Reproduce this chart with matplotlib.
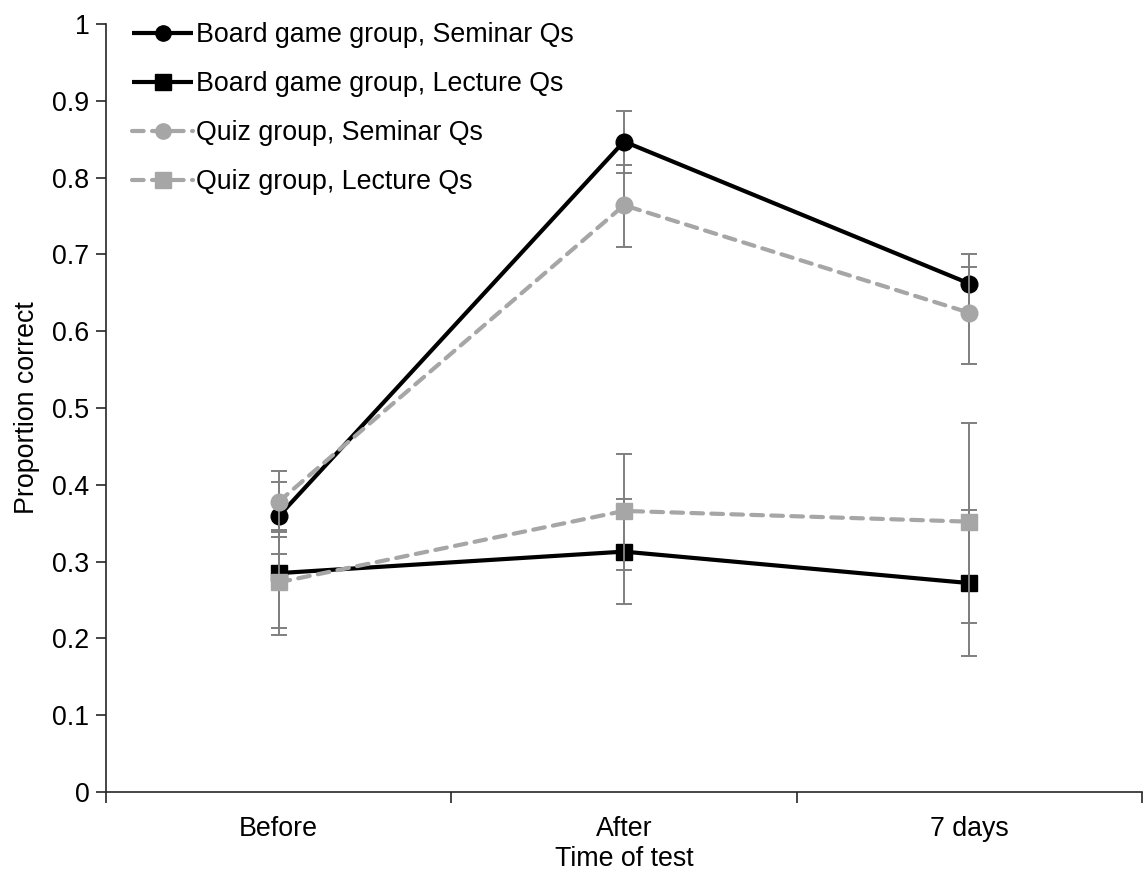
import matplotlib
matplotlib.use("Agg")
import matplotlib.pyplot as plt
from matplotlib.ticker import FixedLocator

categories = ["Before", "After", "7 days"]

bg_sem = [0.359, 0.847, 0.662]
bg_sem_lo = [0.049, 0.041, 0.038]
bg_sem_hi = [0.045, 0.040, 0.038]

bg_lec = [0.285, 0.313, 0.272]
bg_lec_lo = [0.081, 0.068, 0.095]
bg_lec_hi = [0.056, 0.068, 0.095]

qz_sem = [0.378, 0.764, 0.624]
qz_sem_lo = [0.040, 0.054, 0.067]
qz_sem_hi = [0.040, 0.052, 0.060]

qz_lec = [0.273, 0.366, 0.352]
qz_lec_lo = [0.059, 0.077, 0.132]
qz_lec_hi = [0.059, 0.074, 0.129]

labels = ["Board game group, Seminar Qs", "Board game group, Lecture Qs",
          "Quiz group, Seminar Qs", "Quiz group, Lecture Qs"]
y_ticks = [0, 0.1, 0.2, 0.3, 0.4, 0.5, 0.6, 0.7, 0.8, 0.9, 1]
y_ticklabels = ["0", "0.1", "0.2", "0.3", "0.4", "0.5", "0.6", "0.7", "0.8", "0.9", "1"]

plt.rcParams['font.family'] = ['Liberation Sans', 'DejaVu Sans']
FS = 19.3

fig = plt.figure(figsize=(11.44, 8.75), dpi=100)
ax = fig.add_axes([106/1144, (875-792)/875, 1036/1144, 768/875])

x = list(range(len(categories)))
black = "#000000"
gray = "#a6a6a6"
ecol = "#7f7f7f"

series = [
    (bg_sem, bg_sem_lo, bg_sem_hi, black, "o", "-"),
    (bg_lec, bg_lec_lo, bg_lec_hi, black, "s", "-"),
    (qz_sem, qz_sem_lo, qz_sem_hi, gray, "o", "--"),
    (qz_lec, qz_lec_lo, qz_lec_hi, gray, "s", "--"),
]

handles = []
for i, (vals, lo, hi, col, mk, ls) in enumerate(series):
    ax.errorbar(x, vals, yerr=[lo, hi], fmt="none", ecolor=ecol,
                elinewidth=1.4, capsize=5.5, capthick=1.4, zorder=2 + 2*i)
    ln, = ax.plot(x, vals, color=col, linestyle=ls, linewidth=3.0,
                  marker=mk, markersize=12, markerfacecolor=col,
                  markeredgecolor=col, label=labels[i], zorder=3 + 2*i,
                  dash_capstyle="round", solid_capstyle="butt")
    if ls == "--":
        ln.set_dashes((2.8, 2.0))
    handles.append(ln)

ax.set_xlim(-0.5, 2.5)
ax.set_ylim(0, 1)
ax.spines["top"].set_visible(False)
ax.spines["right"].set_visible(False)
for s in ["left", "bottom"]:
    ax.spines[s].set_linewidth(1.2)
    ax.spines[s].set_color("#262626")

ax.set_yticks(y_ticks)
ax.set_yticklabels(y_ticklabels, fontsize=FS)
ax.tick_params(axis="y", direction="out", length=7, width=1.2, color="#262626", pad=5)

ax.set_xticks(x)
ax.set_xticklabels(categories, fontsize=FS)
ax.tick_params(axis="x", which="major", length=0, pad=17)
ax.xaxis.set_minor_locator(FixedLocator([-0.5, 0.5, 1.5, 2.5]))
ax.tick_params(axis="x", which="minor", direction="out", length=8, width=1.2, color="#262626")

ax.set_xlabel("Time of test", fontsize=FS, labelpad=3)
ax.set_ylabel("Proportion correct", fontsize=FS, labelpad=9)

leg = ax.legend(handles=handles, loc="upper left", bbox_to_anchor=(0.012, 1.02),
                frameon=False, fontsize=FS, handlelength=2.3, handletextpad=0.1,
                labelspacing=0.86, borderpad=0)
for h in leg.legend_handles:
    h.set_markersize(11)

fig.savefig("out.png", dpi=100)
